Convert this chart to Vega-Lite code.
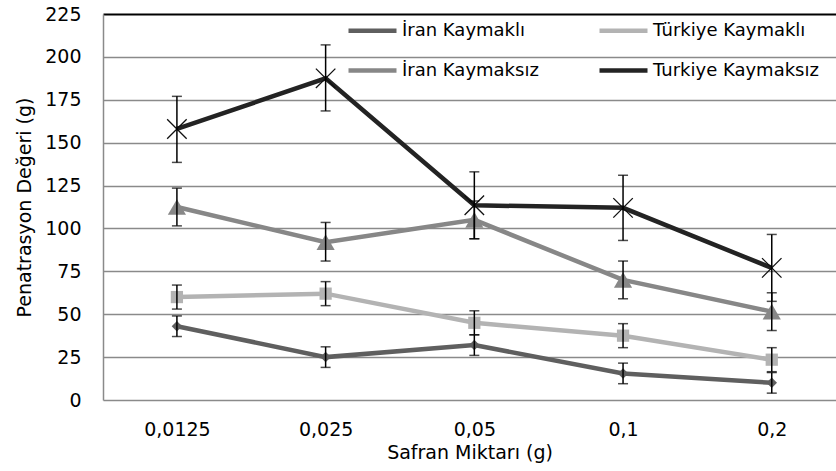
{
  "$schema": "https://vega.github.io/schema/vega-lite/v6.json",
  "autosize": "none",
  "width": 733,
  "height": 386,
  "padding": {"left": 103, "top": 14, "right": 0, "bottom": 71},
  "config": {
    "view": {"stroke": null}
  },
  "data": {"values": [
    {"x": "0,0125", "series": "İran Kaymaklı", "v": 43, "lo": 37, "hi": 49},
    {"x": "0,025", "series": "İran Kaymaklı", "v": 25, "lo": 19, "hi": 31},
    {"x": "0,05", "series": "İran Kaymaklı", "v": 32, "lo": 26, "hi": 38},
    {"x": "0,1", "series": "İran Kaymaklı", "v": 15.5, "lo": 9.5, "hi": 21.5},
    {"x": "0,2", "series": "İran Kaymaklı", "v": 10, "lo": 4, "hi": 16},
    {"x": "0,0125", "series": "Türkiye Kaymaklı", "v": 60, "lo": 53, "hi": 67},
    {"x": "0,025", "series": "Türkiye Kaymaklı", "v": 62, "lo": 55, "hi": 69},
    {"x": "0,05", "series": "Türkiye Kaymaklı", "v": 45, "lo": 38, "hi": 52},
    {"x": "0,1", "series": "Türkiye Kaymaklı", "v": 37.5, "lo": 30.5, "hi": 44.5},
    {"x": "0,2", "series": "Türkiye Kaymaklı", "v": 23.5, "lo": 16.5, "hi": 30.5},
    {"x": "0,0125", "series": "İran Kaymaksız", "v": 112.5, "lo": 101.5, "hi": 123.5},
    {"x": "0,025", "series": "İran Kaymaksız", "v": 92, "lo": 81, "hi": 103.5},
    {"x": "0,05", "series": "İran Kaymaksız", "v": 105, "lo": 94, "hi": 116},
    {"x": "0,1", "series": "İran Kaymaksız", "v": 70, "lo": 59, "hi": 81},
    {"x": "0,2", "series": "İran Kaymaksız", "v": 51.5, "lo": 40.5, "hi": 62.5},
    {"x": "0,0125", "series": "Turkiye Kaymaksız", "v": 158, "lo": 138.5, "hi": 177},
    {"x": "0,025", "series": "Turkiye Kaymaksız", "v": 187.5, "lo": 168.5, "hi": 207},
    {"x": "0,05", "series": "Turkiye Kaymaksız", "v": 113.5, "lo": 94, "hi": 133},
    {"x": "0,1", "series": "Turkiye Kaymaksız", "v": 112, "lo": 93, "hi": 131},
    {"x": "0,2", "series": "Turkiye Kaymaksız", "v": 77, "lo": 57.5, "hi": 96.5}
  ]},
  "encoding": {
    "x": {"field": "x", "type": "ordinal", "sort": ["0,0125", "0,025", "0,05", "0,1", "0,2"],
      "scale": {"type": "point", "padding": 0.4645, "align": 0.535},
      "axis": {"title": "Safran Miktarı (g)", "labelAngle": 0, "domain": false, "ticks": false, "grid": false,
        "labelFont": "DejaVu Sans", "labelFontSize": 19, "labelColor": "#000", "labelPadding": 20,
        "titleFont": "DejaVu Sans", "titleFontSize": 19, "titleFontWeight": "normal", "titleColor": "#000", "titlePadding": 4}},
    "y": {"field": "v", "type": "quantitative",
      "scale": {"domain": [0, 225], "nice": false},
      "axis": {"title": "Penatrasyon Değeri (g)", "values": [0, 25, 50, 75, 100, 125, 150, 175, 200, 225], "ticks": false,
        "labelFont": "DejaVu Sans", "labelFontSize": 19, "labelColor": "#000", "labelPadding": 22,
        "titleFont": "DejaVu Sans", "titleFontSize": 19, "titleFontWeight": "normal", "titleColor": "#000", "titlePadding": 10,
        "domainColor": "#8a8a8a", "domainWidth": 1.5,
        "gridColor": {"condition": {"test": "datum.value === 225", "value": "#000"}, "value": "#8a8a8a"},
        "gridWidth": {"condition": {"test": "datum.value === 225", "value": 2}, "value": 1.5},
        "gridOpacity": 1}}
  },
  "layer": [
    {
      "mark": {"type": "line", "strokeWidth": 4.5},
      "encoding": {
        "stroke": {"field": "series", "type": "nominal",
          "scale": {"domain": ["İran Kaymaklı", "Türkiye Kaymaklı", "İran Kaymaksız", "Turkiye Kaymaksız"], "range": ["#5f5f5f", "#b3b3b3", "#878787", "#232323"]},
          "legend": {"title": null, "orient": "none", "legendX": 247, "legendY": -6, "columns": 2, "direction": "horizontal",
            "labelFont": "DejaVu Sans", "labelFontSize": 18, "labelColor": "#000",
            "symbolType": "M-1.2,0H1.2", "symbolSize": 1600, "symbolStrokeWidth": 4.5, "symbolOpacity": 1,
            "labelOffset": 7, "rowPadding": 8, "columnPadding": 51, "labelLimit": 300}}
      }
    },
    {
      "transform": [{"filter": "datum.series === 'İran Kaymaklı'"}],
      "mark": {"type": "point", "filled": true, "opacity": 1, "shape": "diamond", "size": 110, "fill": "#5f5f5f"}
    },
    {
      "transform": [{"filter": "datum.series === 'Türkiye Kaymaklı'"}],
      "mark": {"type": "point", "filled": true, "opacity": 1, "shape": "square", "size": 150, "fill": "#b3b3b3"}
    },
    {
      "transform": [{"filter": "datum.series === 'İran Kaymaksız'"}],
      "mark": {"type": "point", "filled": true, "opacity": 1, "shape": "triangle-up", "size": 330, "fill": "#878787"}
    },
    {
      "transform": [{"filter": "datum.series === 'Turkiye Kaymaksız'"}],
      "mark": {"type": "point", "filled": false, "shape": "M-1,-1L1,1M-1,1L1,-1", "size": 380, "stroke": "#111", "strokeWidth": 1.3, "opacity": 1}
    },
    {
      "mark": {"type": "rule", "color": "#000", "strokeWidth": 1.5},
      "encoding": {"y": {"field": "lo", "type": "quantitative"}, "y2": {"field": "hi"}}
    },
    {
      "mark": {"type": "tick", "color": "#000", "thickness": 1.5, "size": 10, "orient": "horizontal"},
      "encoding": {"y": {"field": "lo", "type": "quantitative"}}
    },
    {
      "mark": {"type": "tick", "color": "#000", "thickness": 1.5, "size": 10, "orient": "horizontal"},
      "encoding": {"y": {"field": "hi", "type": "quantitative"}}
    }
  ]
}
